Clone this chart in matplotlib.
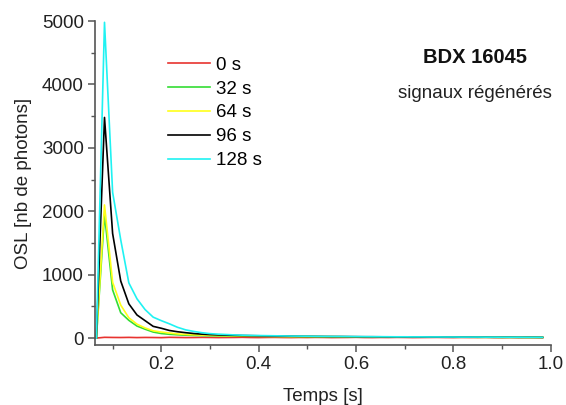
import matplotlib
matplotlib.use("Agg")
import matplotlib.pyplot as plt
from matplotlib.ticker import MultipleLocator
import numpy as np

plt.rcParams['font.family'] = ['Liberation Sans', 'DejaVu Sans']

# time channels (1/60 s bins, first shown at 4/60 s)
temps = np.arange(4, 60) / 60.0

labels = ['0 s', '32 s', '64 s', '96 s', '128 s']
colors = ['#e8332f', '#33dd33', '#ffff1a', '#000000', '#1ff2f2']

osl_0 = [0, 12, 10, 9, 11, 8, 10, 9, 7, 12,
         10, 8, 9, 11, 10, 8, 9, 10, 12, 9,
         8, 10, 11, 9, 8, 10, 9, 11, 10, 8,
         9, 10, 12, 9, 8, 10, 9, 11, 10, 8,
         9, 10, 11, 9, 8, 10, 9, 10, 11, 9,
         8, 10, 9, 10, 9, 8]
osl_32 = [0, 1950, 760, 400, 280, 190, 140, 95, 72, 60, 52, 46, 42, 39, 36,
          34, 32, 31, 30, 29, 28, 27, 26, 25, 24, 23, 23, 22, 21, 21,
          20, 20, 19, 19, 18, 18, 17, 17, 16, 16, 16, 15, 15, 15, 14,
          14, 14, 13, 13, 13, 12, 12, 12, 11, 11, 11]
osl_64 = [0, 2100, 880, 520, 320, 220, 160, 115, 95, 80, 66, 58, 52, 47, 43,
          40, 38, 36, 34, 32, 30, 29, 28, 27, 26, 25, 24, 23, 22, 22,
          21, 20, 20, 19, 19, 18, 18, 17, 17, 16, 16, 15, 15, 15, 14,
          14, 14, 13, 13, 13, 12, 12, 12, 11, 11, 11]
osl_96 = [0, 3480, 1650, 900, 540, 365, 275, 185, 155, 120, 100, 85, 72, 62, 55,
          50, 46, 43, 40, 38, 36, 34, 32, 31, 30, 28, 27, 26, 25, 24,
          24, 23, 22, 21, 21, 20, 19, 19, 18, 18, 17, 17, 16, 16, 15,
          15, 15, 14, 14, 13, 13, 13, 12, 12, 12, 11]
osl_128 = [0, 4980, 2300, 1550, 870, 620, 450, 330, 275, 225, 170, 130, 105, 85, 70,
           62, 56, 50, 46, 42, 40, 38, 36, 34, 32, 31, 30, 28, 27, 26,
           26, 25, 24, 23, 22, 22, 21, 20, 20, 19, 19, 18, 18, 17, 17,
           16, 16, 16, 15, 15, 14, 14, 14, 13, 13, 12]
series = [osl_0, osl_32, osl_64, osl_96, osl_128]

fs = 13.5
fig = plt.figure(figsize=(5.66, 4.05), dpi=100)
ax = fig.add_axes([0.168, 0.148, 0.805, 0.800])

for vals, lab, col in zip(series, labels, colors):
    ax.plot(temps, vals, color=col, linewidth=1.2, label=lab)

ax.set_xlim(0.064, 1.0)
ax.set_ylim(-110, 5000)
ax.xaxis.set_major_locator(MultipleLocator(0.2))
ax.xaxis.set_minor_locator(MultipleLocator(0.1))
ax.yaxis.set_major_locator(MultipleLocator(1000))
ax.yaxis.set_minor_locator(MultipleLocator(500))
ax.set_xticks([0.2, 0.4, 0.6, 0.8, 1.0])
ax.set_xticklabels(['0.2', '0.4', '0.6', '0.8', '1.0'])

for s in ['top', 'right']:
    ax.spines[s].set_visible(False)
for s in ['left', 'bottom']:
    ax.spines[s].set_color('#555555')
    ax.spines[s].set_linewidth(1.2)
ax.tick_params(which='major', length=5, width=1.1, color='#555555',
               labelsize=fs, labelcolor='#222222', pad=3)
ax.tick_params(which='minor', length=3, width=1.0, color='#555555')

ax.set_xlabel('Temps [s]', fontsize=fs, color='#222222', labelpad=11)
ax.set_ylabel('OSL [nb de photons]', fontsize=fs, color='#222222', labelpad=7)

ax.legend(loc='upper left', bbox_to_anchor=(0.267, 0.902),
          bbox_transform=fig.transFigure, frameon=False, fontsize=fs,
          handlelength=2.25, handletextpad=0.3, labelspacing=0.36)

fig.text(0.839, 0.857, 'BDX 16045', ha='center', va='center',
         fontsize=14.5, fontweight='bold', color='#111111')
fig.text(0.839, 0.770, 'signaux régénérés', ha='center', va='center',
         fontsize=fs, color='#222222')

fig.savefig('out.png', dpi=100)
